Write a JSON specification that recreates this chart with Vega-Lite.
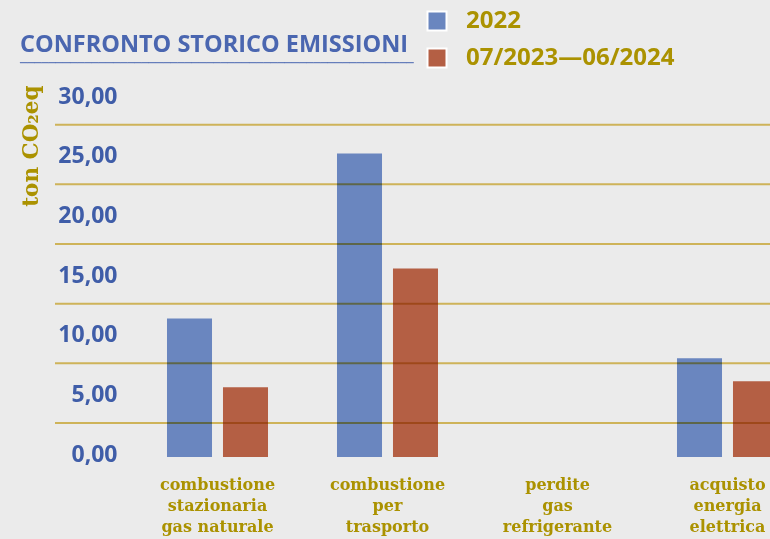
{
  "$schema": "https://vega.github.io/schema/vega-lite/v6.json",
  "autosize": {"type": "none"},
  "padding": {"left": 55, "top": 99, "right": 0, "bottom": 82},
  "width": 715,
  "height": 358,
  "background": "#ebebeb",
  "title": {
    "text": "CONFRONTO STORICO EMISSIONI",
    "subtitle": "───────────────────────────────────────────────────────",
    "anchor": "start",
    "frame": "group",
    "dx": -35,
    "dy": 80,
    "font": "Open Sans",
    "fontSize": 23.5,
    "fontWeight": "bold",
    "color": "#4a66b0",
    "subtitleFont": "DejaVu Sans Mono",
    "subtitleFontSize": 11.9,
    "subtitleColor": "#4a66b0",
    "subtitlePadding": 2,
    "offset": 20
  },
  "datasets": {
    "bars": [
      {"categoria": "combustione stazionaria gas naturale", "periodo": "2022", "value": 11.6},
      {"categoria": "combustione stazionaria gas naturale", "periodo": "07/2023—06/2024", "value": 5.84},
      {"categoria": "combustione per trasporto", "periodo": "2022", "value": 25.43},
      {"categoria": "combustione per trasporto", "periodo": "07/2023—06/2024", "value": 15.8},
      {"categoria": "perdite gas refrigerante", "periodo": "2022", "value": 0},
      {"categoria": "perdite gas refrigerante", "periodo": "07/2023—06/2024", "value": 0},
      {"categoria": "acquisto energia elettrica", "periodo": "2022", "value": 8.27},
      {"categoria": "acquisto energia elettrica", "periodo": "07/2023—06/2024", "value": 6.34}
    ],
    "grid": [
      {"value": 2.85}, {"value": 7.85}, {"value": 12.85},
      {"value": 17.85}, {"value": 22.85}, {"value": 27.85}
    ]
  },
  "layer": [
    {
      "data": {"name": "bars"},
      "mark": {"type": "bar", "clip": false},
      "encoding": {
        "x": {
          "field": "categoria",
          "type": "nominal",
          "sort": ["combustione stazionaria gas naturale", "combustione per trasporto", "perdite gas refrigerante", "acquisto energia elettrica"],
          "scale": {"range": [77.5, 757.5], "paddingInner": 0, "paddingOuter": 0},
          "axis": {
            "title": null,
            "domain": false,
            "ticks": false,
            "labelAngle": 0,
            "labelFont": "DejaVu Serif",
            "labelFontWeight": "bold",
            "labelFontSize": 16,
            "labelLineHeight": 21,
            "labelColor": "#ab9200",
            "labelBaseline": "top",
            "labelPadding": 19,
            "labelLimit": 0,
            "labelOverlap": false,
            "labelBound": false,
            "labelExpr": "datum.value == 'combustione stazionaria gas naturale' ? ['combustione','stazionaria','gas naturale'] : split(datum.value, ' ')"
          }
        },
        "xOffset": {
          "field": "periodo",
          "type": "nominal",
          "sort": ["2022", "07/2023—06/2024"],
          "scale": {"paddingInner": 0.196, "paddingOuter": 0.616}
        },
        "y": {
          "field": "value",
          "type": "quantitative",
          "scale": {"domain": [0, 30], "nice": false},
          "axis": {
            "title": "ton CO₂eq",
            "titleFont": "DejaVu Serif",
            "titleFontWeight": "bold",
            "titleFontSize": 21.5,
            "titleColor": "#ab9200",
            "titleAngle": 270,
            "titleAlign": "right",
            "titleBaseline": "middle",
            "titleX": -24,
            "titleY": -14,
            "values": [0, 5, 10, 15, 20, 25, 30],
            "labelExpr": "replace(format(datum.value, '.2f'), '.', ',')",
            "domain": false,
            "ticks": false,
            "grid": false,
            "labelFont": "Open Sans",
            "labelFontWeight": "bold",
            "labelFontSize": 23,
            "labelColor": "#3f5da8",
            "labelAlign": "right",
            "labelBaseline": "middle",
            "labelPadding": -62,
            "labelOffset": -3
          }
        },
        "color": {
          "field": "periodo",
          "type": "nominal",
          "sort": ["2022", "07/2023—06/2024"],
          "scale": {"range": ["#6a86bf", "#b45f44"]},
          "legend": {
            "title": null,
            "orient": "none",
            "legendX": 370,
            "legendY": -90,
            "direction": "vertical",
            "padding": 0,
            "symbolType": "square",
            "symbolSize": 361,
            "symbolStrokeColor": "white",
            "symbolStrokeWidth": 2,
            "symbolOpacity": 1,
            "labelFont": "Open Sans",
            "labelFontWeight": "bold",
            "labelFontSize": 24,
            "labelColor": "#ab9200",
            "labelOffset": 17,
            "rowPadding": 9,
            "labelLimit": 0
          }
        }
      }
    },
    {
      "data": {"name": "grid"},
      "mark": {"type": "rule", "color": "#e0c260", "strokeWidth": 2, "blend": "multiply"},
      "encoding": {
        "y": {"field": "value", "type": "quantitative"}
      }
    }
  ],
  "config": {
    "view": {"stroke": null}
  }
}
